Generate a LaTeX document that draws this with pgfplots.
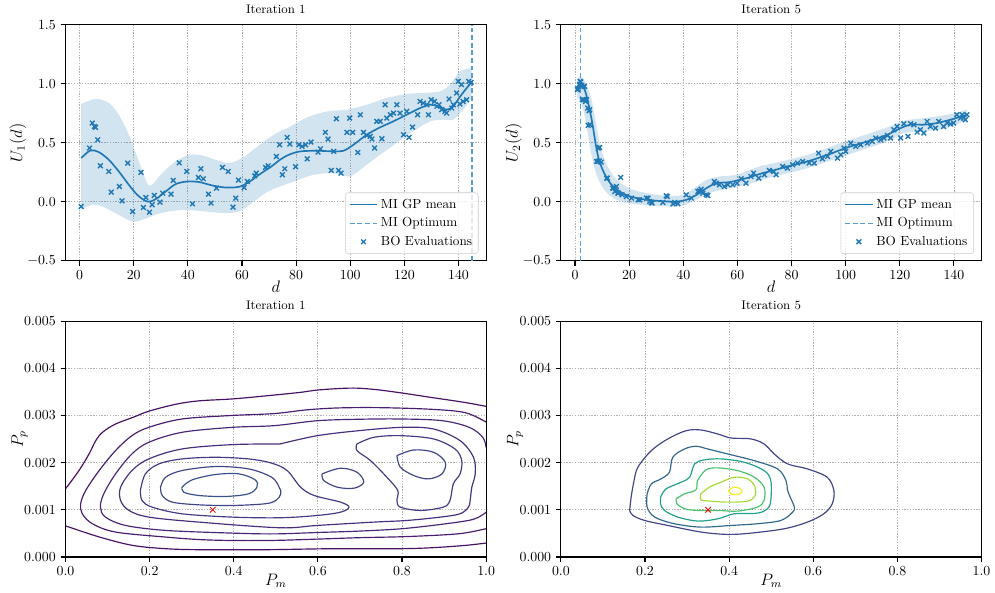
\documentclass[border=0pt]{standalone}
\usepackage{pgfplots}
\pgfplotsset{compat=1.18}
\usepgfplotslibrary{fillbetween}
\definecolor{tabblue}{HTML}{1F77B4}
\definecolor{optblue}{HTML}{5A9BD0}
\definecolor{gridc}{HTML}{B0B0B0}
\definecolor{ca}{HTML}{471164}
\definecolor{cb}{HTML}{481D6F}
\definecolor{cc}{HTML}{482677}
\definecolor{cd}{HTML}{472F7D}
\definecolor{ce}{HTML}{443A83}
\definecolor{cf}{HTML}{404588}
\definecolor{cg}{HTML}{3B518B}
\definecolor{da}{HTML}{414487}
\definecolor{db}{HTML}{31688E}
\definecolor{dc}{HTML}{1FA088}
\definecolor{dd}{HTML}{4AC16D}
\definecolor{de}{HTML}{A5DB36}
\definecolor{df}{HTML}{FDE725}
\pgfplotsset{
  base/.style={
    width=303.8pt, height=170.6pt, scale only axis,
    axis line style={line width=0.8pt, black},
    grid=major,
    major grid style={gridc, line width=0.6pt, dash pattern=on 1pt off 1pt},
    tick align=outside, xtick pos=bottom, ytick pos=left,
    major tick length=3.5pt,
    tick style={black, line width=0.8pt},
    tick label style={font=\fontsize{10}{12}\selectfont},
    title style={font=\fontsize{9}{11}\selectfont, at={(axis description cs:0.5,1.031)}, anchor=center},
    label style={font=\fontsize{12}{14}\selectfont},
    xlabel style={at={(axis description cs:0.5,-0.111)}, anchor=center},
    ylabel style={at={(axis description cs:-0.113,0.5)}, anchor=center},
  },
  topax/.style={base,
    xmin=-5.2, xmax=150.2, ymin=-0.5, ymax=1.5,
    xtick={0,20,...,140}, ytick={-0.5,0,0.5,1,1.5},
    yticklabel={\pgfmathprintnumber[fixed,fixed zerofill,precision=1]{\tick}},
    xlabel={$d$},
    legend cell align=left,
    legend style={at={(1,0)}, anchor=south east, xshift=-5.5pt, yshift=5pt,
      draw=black!20, rounded corners=2pt, fill=white, fill opacity=0.8, text opacity=1,
      font=\fontsize{9.5}{11}\selectfont, row sep=1.2pt, inner sep=2.5pt},
    legend image code/.code={\draw[mark repeat=2,mark phase=2] plot coordinates {(0pt,0pt) (10pt,0pt) (20pt,0pt)};},
  },
  botax/.style={base,
    height=170.4pt,
    xmin=0, xmax=1, ymin=0, ymax=5,
    xtick={0,0.2,0.4,0.6,0.8,1}, ytick={0,1,2,3,4,5},
    xticklabel={\pgfmathprintnumber[fixed,fixed zerofill,precision=1]{\tick}},
    yticklabels={0.000,0.001,0.002,0.003,0.004,0.005},
    xlabel={$P_m$}, ylabel={$P_p$},
    xlabel style={at={(axis description cs:0.5,-0.1)}, anchor=center},
    ylabel style={at={(axis description cs:-0.109,0.5)}, anchor=center},
  },
  meanline/.style={tabblue, line width=1.2pt, smooth, tension=0.5},
  optline/.style={optblue, line width=0.9pt, dash pattern=on 3.5pt off 2pt},
  evals/.style={only marks, mark=x, mark size=2.4pt, mark options={tabblue, line width=1pt}},
  band/.style={draw=none, smooth, tension=0.5, forget plot},
  cl/.style={line width=0.85pt, smooth, tension=0.55},
  redx/.style={only marks, mark=x, mark size=2.8pt, mark options={red, line width=0.6pt}},
}
\begin{document}
\begin{tikzpicture}

% ---------------- Top left: Iteration 1 ----------------
\begin{axis}[topax, at={(47.3pt,-13.9pt)}, anchor=north west,
  title={Iteration 1}, ylabel={$U_1(d)$}]
\addplot[band, name path=u1] coordinates {
(0.6,0.828) (5.9,0.871) (10.8,0.837) (14.5,0.737) (18.2,0.568) (21.9,0.342) (25,0.158) (26.8,0.144) (30.5,0.243) (35.5,0.342) (40.4,0.398) (45.3,0.393) (50.2,0.356) (55.1,0.328) (60,0.37) (65,0.455) (69.9,0.54) (74.3,0.6) (76.8,0.624) (84.1,0.715) (91.4,0.765) (98.8,0.78) (106.1,0.822) (113.5,0.879) (120.8,0.913) (125.8,0.921) (133.1,0.935) (136.8,0.992) (140.5,1.104) (144.8,1.133)};
\addplot[band, name path=l1] coordinates {
(0.6,-0.068) (4.7,-0.025) (8.4,-0.04) (13.3,-0.096) (19.4,-0.167) (23.1,-0.153) (28,-0.11) (32.9,-0.082) (39.1,-0.068) (46.5,-0.082) (53.8,-0.096) (58.8,-0.082) (63.7,-0.011) (68.6,0.074) (74,0.13) (79.2,0.172) (86.5,0.229) (93.8,0.243) (99.9,0.215) (106.1,0.314) (111,0.398) (117.1,0.497) (123.2,0.596) (129.5,0.681) (134.3,0.695) (138,0.695) (141.7,0.78) (144.8,0.879)};
\addplot[tabblue, fill opacity=0.2, draw=none, forget plot] fill between[of=u1 and l1];
\addplot[meanline] coordinates {
(0.6,0.37) (4.0,0.435) (7.1,0.421) (10.8,0.356) (14.5,0.257) (18.2,0.144) (21.3,0.059) (24.3,0.008) (26.2,0.003) (28.7,0.031) (31.8,0.087) (35.5,0.15) (39.8,0.172) (44.2,0.167) (49.1,0.138) (54,0.121) (58.9,0.127) (62.6,0.167) (66.3,0.229) (71.2,0.305) (74.3,0.36) (77.5,0.40) (81.6,0.427) (87.7,0.432) (93.8,0.427) (97.5,0.432) (101.2,0.483) (106.1,0.568) (111,0.63) (115.9,0.681) (120.8,0.737) (125.8,0.794) (129.5,0.822) (132.5,0.808) (135.6,0.78) (138,0.808) (141.1,0.907) (144.8,1.014)};
\addlegendentry{MI GP mean}
\addplot[optline] coordinates {(145,-0.5) (145,1.5)};
\addlegendentry{MI Optimum}
\addplot[evals] coordinates {
(0.6,-0.04) (3.7,0.455) (4.7,0.667) (5.5,0.638) (5.9,0.63) (6.7,0.525) (7.7,0.305) (10.8,0.257) (11.7,0.082) (14.7,0.13) (15.7,0.008) (17.8,0.328) (19.6,-0.082) (22.7,0.249) (23.6,-0.048) (24.5,0.037) (25.8,-0.088) (26.8,-0.025) (27.6,0.054) (29.7,-0.003) (30.7,0.073) (33.8,0.065) (34.6,0.181) (36.8,0.33) (39.6,0.257) (41.7,-0.017) (43.9,0.206) (44.8,0.28) (45.7,0.195) (47.6,0.065) (48.6,-0.011) (50.6,0.116) (52.8,0.291) (54.9,0.257) (56.7,-0.045) (57.7,0.031) (58.7,0.184) (60.8,0.121) (62,0.172) (64.7,0.22) (65.3,0.243) (68.7,0.291) (69.7,0.305) (72.7,0.384) (73.9,0.483) (74.9,0.229) (75.8,0.28) (76.7,0.545) (77.7,0.489) (79.8,0.297) (81,0.483) (82.2,0.469) (83.5,0.483) (84.1,0.364) (85.5,0.506) (88.1,0.421) (89,0.449) (90.8,0.588) (91.8,0.531) (93,0.266) (93.9,0.427) (94.9,0.703) (95.7,0.266) (96.6,0.243) (98.8,0.588) (99.8,0.709) (100.9,0.588) (102.8,0.418) (103.7,0.737) (104.9,0.588) (106.2,0.562) (107.4,0.554) (108,0.531) (109,0.455) (109.8,0.681) (111.1,0.681) (111.7,0.534) (112.9,0.822) (113.5,0.709) (114.8,0.737) (116,0.751) (117.2,0.822) (118.4,0.751) (119.7,0.568) (120.9,0.766) (121.7,0.545) (123,0.633) (124.9,0.737) (125.8,0.85) (127,0.836) (128.3,0.822) (128.9,0.737) (129.9,0.864) (131.1,0.85) (132,0.808) (132.8,0.822) (133.8,0.78) (135,0.766) (135.6,0.751) (136.5,0.87) (137.5,0.794) (138.1,0.822) (139.3,0.921) (139.9,1.02) (140.5,0.828) (141.1,0.992) (141.7,0.85) (143,0.864) (143.8,1.02) (144.6,1.011)};
\addlegendentry{BO Evaluations}
\end{axis}

% ---------------- Top right: Iteration 5 ----------------
\begin{axis}[topax, at={(405.1pt,-13.9pt)}, anchor=north west,
  title={Iteration 5}, ylabel={$U_2(d)$}]
\addplot[band, name path=u5] coordinates {
(0.7,1.042) (2.6,1.053) (4.4,0.99) (6.3,0.85) (8.1,0.624) (9.9,0.427) (12.4,0.285) (15.5,0.186) (20.4,0.11) (26.5,0.074) (33.9,0.051) (40,0.059) (44.9,0.13) (48.6,0.186) (53.5,0.215) (59.6,0.229) (68.2,0.3) (73.7,0.328) (85.9,0.398) (100.6,0.517) (115.4,0.63) (121.5,0.686) (128.9,0.709) (137.5,0.737) (144.8,0.78)};
\addplot[band, name path=l5] coordinates {
(0.7,0.88) (2,0.85) (3.2,0.765) (4.4,0.624) (5.6,0.455) (6.9,0.314) (8.7,0.186) (11.2,0.093) (14.2,0.031) (19.1,-0.011) (26.5,-0.031) (35.1,-0.04) (40,-0.031) (44.9,0.017) (49.8,0.074) (56,0.11) (63.3,0.144) (71.2,0.2) (85.9,0.285) (100.6,0.398) (115.4,0.511) (121.5,0.582) (128.9,0.596) (137.5,0.624) (144.8,0.695)};
\addplot[tabblue, fill opacity=0.2, draw=none, forget plot] fill between[of=u5 and l5];
\addplot[meanline] coordinates {
(0.7,0.963) (2.2,1.006) (3.8,0.935) (5,0.822) (6.3,0.68) (7.5,0.511) (8.7,0.37) (10.5,0.257) (13,0.158) (16.1,0.093) (20.4,0.045) (26.5,0.017) (33.9,0.003) (38.1,0.003) (41.2,0.017) (44.9,0.059) (48.6,0.116) (52.3,0.158) (57.2,0.167) (63.3,0.2) (69.4,0.243) (73.7,0.268) (78.5,0.3) (85.9,0.342) (93.3,0.398) (100.6,0.46) (108,0.511) (115.4,0.568) (120.3,0.624) (123.9,0.653) (128.9,0.653) (133.8,0.667) (138.7,0.695) (144.8,0.737)};
\addlegendentry{MI GP mean}
\addplot[optline] coordinates {(2,-0.5) (2,1.5)};
\addlegendentry{MI Optimum}
\addplot[evals] coordinates {
(0.9,0.949) (1.6,0.992) (2.1,1.014) (2.5,0.977) (2.7,0.864) (3.4,0.977) (3.9,0.85) (4.3,0.864) (4.7,0.794) (5.2,0.771) (4.9,0.647) (8.0,0.342) (8.6,0.455) (9.0,0.347) (12.0,0.2) (14.1,0.116) (15.3,0.13) (16.0,0.073) (16.9,0.206) (17.4,0.059) (19.0,0.045) (20.9,0.031) (23.3,0.017) (26.4,0.031) (27.6,0.003) (28.5,-0.011) (32.5,-0.006) (34.1,0.045) (36.2,-0.017) (38.0,-0.017) (41.1,0.059) (43.0,0.031) (45.4,0.088) (46.6,0.107) (47.2,0.073) (49.1,0.054) (51.5,0.172) (52.2,0.158) (53.4,0.144) (55.2,0.13) (56.5,0.144) (58.3,0.144) (59.9,0.158) (61.4,0.195) (63.2,0.158) (65.0,0.215) (66.0,0.243) (67.9,0.2) (70.0,0.229) (71.8,0.266) (73.4,0.257) (74.3,0.229) (76.7,0.299) (78.5,0.285) (80.4,0.314) (82.2,0.328) (84.1,0.342) (86.5,0.328) (88.4,0.328) (90.0,0.412) (91.4,0.364) (93.3,0.384) (94.5,0.427) (97.0,0.37) (98.2,0.398) (99.4,0.455) (100.0,0.427) (101.9,0.497) (103.7,0.469) (105.5,0.483) (108.0,0.497) (109.8,0.511) (111.1,0.54) (112.9,0.525) (114.1,0.54) (115.4,0.562) (116.6,0.54) (117.8,0.61) (119.0,0.638) (120.3,0.54) (121.5,0.661) (123.0,0.554) (124.0,0.661) (125.2,0.653) (126.4,0.59) (127.6,0.61) (128.9,0.582) (130.1,0.681) (131.3,0.638) (133.2,0.624) (134.4,0.681) (136.2,0.638) (137.5,0.667) (138.7,0.658) (139.9,0.667) (141.1,0.737) (142.4,0.709) (143.0,0.737) (143.6,0.709) (144.8,0.737) (144.2,0.695)
(1.0,0.958) (1.9,1.02) (2.5,0.986) (3.5,0.977) (3.2,0.864) (4.1,0.864) (5.4,0.78) (5.6,0.653) (9.1,0.46) (8.5,0.342) (9.7,0.336) (11.7,0.2) (13.9,0.116) (14.7,0.087) (15.9,0.073) (23.9,0.017) (27.0,0.031) (28.2,-0.006) (33.7,0.051) (36.8,-0.006) (46.0,0.093) (48.5,0.059)};
\addlegendentry{BO Evaluations}
\end{axis}

% ---------------- Bottom left: Iteration 1 contours ----------------
\begin{axis}[botax, at={(47.3pt,-228.0pt)}, anchor=north west, title={Iteration 1}]
\addplot[cl, ca] coordinates {(0,1.445) (0.032,1.832) (0.056,2.185) (0.072,2.467) (0.088,2.643) (0.119,2.819) (0.16,2.958) (0.198,3.09) (0.263,3.239) (0.318,3.31) (0.396,3.35) (0.476,3.415) (0.555,3.486) (0.603,3.542) (0.678,3.580) (0.729,3.556) (0.792,3.486) (0.871,3.38) (0.950,3.275) (1.0,3.192)};
\addplot[cl, ca] coordinates {(0,0.66) (0.081,0.423) (0.160,0.246) (0.239,0.176) (0.318,0.155) (0.476,0.155) (0.634,0.176) (0.792,0.176) (0.871,0.197) (0.950,0.246) (1.0,0.296)};
\addplot[cl, cb] coordinates {(1.0,2.86) (0.95,3.06) (0.871,3.13) (0.75,3.165) (0.65,3.16) (0.575,3.12) (0.496,3.04) (0.396,3.0) (0.277,2.925) (0.198,2.748) (0.158,2.572) (0.119,2.255) (0.08,1.832) (0.048,1.409) (0.036,1.128) (0.04,0.916) (0.064,0.705) (0.119,0.529) (0.238,0.423) (0.318,0.37) (0.397,0.35) (0.496,0.352) (0.6,0.38) (0.7,0.41) (0.8,0.43) (0.9,0.47) (0.95,0.51) (1.0,0.6)};
\addplot[cl, cc] coordinates {(1.0,2.32) (0.992,2.537) (0.96,2.748) (0.896,2.889) (0.8,2.925) (0.7,2.92) (0.599,2.889) (0.496,2.784) (0.396,2.748) (0.277,2.643) (0.198,2.431) (0.158,2.185) (0.119,1.762) (0.091,1.339) (0.083,1.057) (0.095,0.846) (0.143,0.669) (0.238,0.564) (0.396,0.507) (0.496,0.49) (0.6,0.52) (0.7,0.55) (0.8,0.6) (0.9,0.7) (0.97,0.8) (1.0,0.95)};
\addplot[cl, cd] coordinates {(0.51,2.396) (0.599,2.572) (0.7,2.68) (0.8,2.748) (0.875,2.713) (0.938,2.467) (0.970,2.114) (0.974,1.762) (0.966,1.48) (0.962,1.198) (0.958,1.057) (0.938,0.916) (0.891,0.846) (0.812,0.775) (0.733,0.74) (0.599,0.67) (0.51,0.62) (0.317,0.74) (0.198,0.846) (0.151,0.987) (0.131,1.198) (0.131,1.48) (0.158,1.832) (0.198,2.079) (0.277,2.29) (0.396,2.382) (0.51,2.396)};
\addplot[cl, ce] coordinates {(0.178,1.409) (0.190,1.762) (0.222,1.973) (0.277,2.079) (0.356,2.114) (0.435,2.079) (0.49,1.99) (0.527,1.832) (0.559,1.48) (0.591,1.304) (0.654,1.163) (0.674,1.057) (0.654,0.951) (0.599,0.881) (0.51,0.832) (0.396,0.846) (0.277,0.916) (0.206,1.057) (0.182,1.198) (0.178,1.409)};
\addplot[cl, ce] coordinates {(0.693,2.396) (0.733,2.537) (0.796,2.572) (0.875,2.502) (0.926,2.29) (0.942,2.044) (0.938,1.762) (0.922,1.55) (0.914,1.198) (0.898,1.057) (0.843,0.987) (0.796,1.057) (0.788,1.198) (0.79,1.409) (0.764,1.691) (0.725,2.044) (0.693,2.255) (0.693,2.396)};
\addplot[cl, cf] coordinates {(0.226,1.48) (0.238,1.691) (0.277,1.832) (0.356,1.917) (0.435,1.868) (0.49,1.691) (0.508,1.48) (0.512,1.339) (0.5,1.198) (0.474,1.128) (0.396,1.092) (0.317,1.106) (0.254,1.163) (0.230,1.304) (0.226,1.48)};
\addplot[cl, cf] coordinates {(0.788,2.149) (0.828,2.269) (0.875,2.22) (0.903,2.008) (0.895,1.762) (0.863,1.656) (0.828,1.727) (0.796,1.903) (0.788,2.149)};
\addplot[cl, cf] coordinates {(0.61,1.762) (0.654,1.882) (0.693,1.797) (0.709,1.586) (0.686,1.459) (0.646,1.48) (0.614,1.621) (0.61,1.762)};
\addplot[cl, cg] coordinates {(0.277,1.48) (0.301,1.635) (0.356,1.748) (0.412,1.762) (0.451,1.635) (0.455,1.48) (0.435,1.339) (0.380,1.283) (0.317,1.304) (0.281,1.374) (0.277,1.48)};
\addplot[redx] coordinates {(0.35,1.0)};
\end{axis}

% ---------------- Bottom right: Iteration 5 contours ----------------
\begin{axis}[botax, at={(405.1pt,-228.0pt)}, anchor=north west, title={Iteration 5}]
\addplot[cl, da] coordinates {(0.1635,0.987) (0.167,1.268) (0.174,1.621) (0.183,1.903) (0.215,2.255) (0.254,2.502) (0.298,2.678) (0.333,2.692) (0.373,2.607) (0.404,2.523) (0.452,2.502) (0.483,2.396) (0.507,2.185) (0.539,1.973) (0.586,1.868) (0.633,1.691) (0.649,1.409) (0.645,1.128) (0.625,0.916) (0.586,0.74) (0.531,0.599) (0.452,0.507) (0.397,0.479) (0.333,0.529) (0.254,0.669) (0.199,0.775) (0.171,0.881) (0.1635,0.987)};
\addplot[cl, db] coordinates {(0.205,1.339) (0.215,1.55) (0.238,1.656) (0.258,1.797) (0.266,2.114) (0.294,2.29) (0.321,2.347) (0.349,2.29) (0.396,2.185) (0.459,2.044) (0.515,1.868) (0.535,1.621) (0.539,1.409) (0.547,1.233) (0.555,1.057) (0.551,0.951) (0.523,0.775) (0.467,0.705) (0.404,0.669) (0.333,0.634) (0.27,0.705) (0.223,0.846) (0.205,1.057) (0.205,1.339)};
\addplot[cl, dc] coordinates {(0.237,1.268) (0.25,1.445) (0.286,1.586) (0.306,1.691) (0.318,1.973) (0.341,2.058) (0.381,2.079) (0.436,2.008) (0.483,1.832) (0.499,1.621) (0.499,1.198) (0.491,1.021) (0.467,0.93) (0.412,0.916) (0.373,0.81) (0.326,0.761) (0.278,0.846) (0.246,0.987) (0.237,1.127) (0.237,1.268)};
\addplot[cl, dd] coordinates {(0.274,1.233) (0.294,1.339) (0.321,1.424) (0.325,1.621) (0.345,1.846) (0.373,1.889) (0.42,1.832) (0.46,1.691) (0.483,1.48) (0.483,1.198) (0.467,1.057) (0.42,0.973) (0.373,0.987) (0.325,0.987) (0.294,1.022) (0.276,1.128) (0.274,1.233)};
\addplot[cl, de] coordinates {(0.333,1.339) (0.353,1.48) (0.381,1.586) (0.412,1.691) (0.444,1.656) (0.46,1.515) (0.462,1.304) (0.444,1.184) (0.396,1.163) (0.357,1.184) (0.333,1.212) (0.333,1.339)};
\addplot[cl, df] coordinates {(0.398,1.395) (0.404,1.452) (0.416,1.48) (0.428,1.438) (0.43,1.374) (0.42,1.325) (0.406,1.332) (0.398,1.395)};
\addplot[redx] coordinates {(0.35,1.0)};
\end{axis}
\path (0pt,0pt) rectangle (716.4pt,-422.6pt);
\end{tikzpicture}
\end{document}
